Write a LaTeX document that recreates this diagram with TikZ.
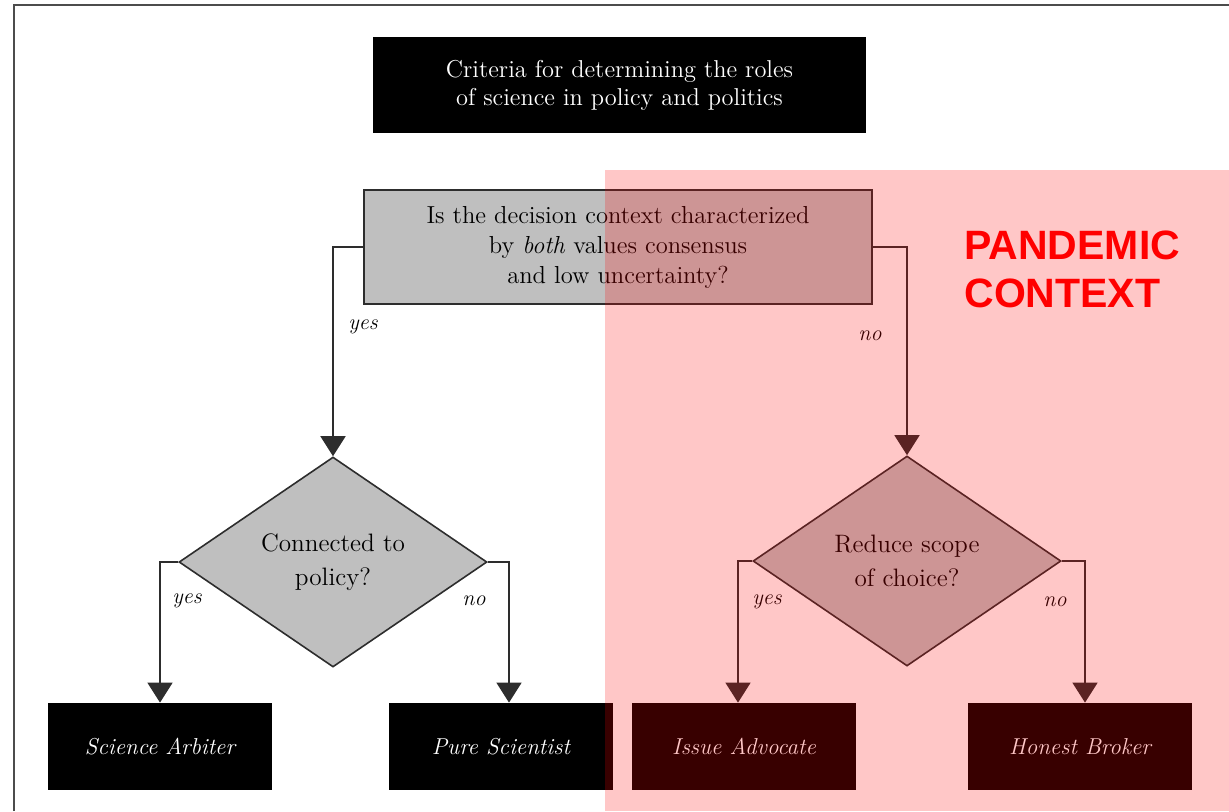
\documentclass[tikz,border=0pt]{standalone}
\usepackage{fontspec}
\newfontfamily\pandemicfont{Liberation Sans}
\usetikzlibrary{arrows.meta,shapes.geometric,positioning}

\definecolor{boxgrey}{RGB}{191,191,191}
\definecolor{linegrey}{RGB}{45,45,45}

\tikzset{
  titlebox/.style={fill=black, text=white, align=center, inner sep=0pt,
    font=\fontsize{12.2}{14}\selectfont},
  questbox/.style={draw=linegrey, line width=1pt, fill=boxgrey, text=black,
    align=center, inner sep=0pt, font=\fontsize{12.3}{15}\selectfont},
  decision/.style={diamond, draw=linegrey, line width=0.8pt, fill=boxgrey,
    text=black, align=center, inner sep=0pt, aspect=1.47,
    minimum width=154pt, minimum height=105pt,
    font=\fontsize{12.6}{17}\selectfont},
  rolebox/.style={fill=black, text=white, inner sep=0pt,
    minimum width=112pt, minimum height=43.5pt,
    font=\fontsize{11.5}{14}\selectfont\itshape},
  answer/.style={text=black, inner sep=0pt, font=\fontsize{11}{13}\selectfont\itshape},
  conn/.style={draw=linegrey, line width=0.8pt, -{Triangle[width=12.5pt,length=10pt]}}
}

\begin{document}
\begin{tikzpicture}[x=0.5pt, y=-0.5pt]

\useasboundingbox (0,0) rectangle (1229,811);

% page frame
\draw [black!70, line width=1pt] (14,811) -- (14,5) -- (1229,5);

\node [titlebox, minimum width=246.5pt, minimum height=48pt] (title) at (619.5,85)
  {Criteria for determining the roles\\of science in policy and politics};

\node [questbox, minimum width=254pt, minimum height=57pt] (quest) at (618,247)
  {Is the decision context characterized\\by \textit{both} values consensus\\and low uncertainty?};

\node [decision] (policy) at (333,562) {Connected to\\policy?};
\node [decision] (scope) at (907,561) {Reduce scope\\of choice?};

\node [rolebox] (arbiter) at (160,746.5) {Science Arbiter};
\node [rolebox] (pure) at (501,746.5) {Pure Scientist};
\node [rolebox] (advocate) at (744,746.5) {Issue Advocate};
\node [rolebox] (broker) at (1080,746.5) {Honest Broker};

\draw [conn] (quest.west) -| (policy.north);
\draw [conn] (quest.east) -| (scope.north);
\draw [conn] (policy.west) -| (arbiter.north);
\draw [conn] (policy.east) -| ([xshift=4pt]pure.north);
\draw [conn] (scope.west) -| ([xshift=-3pt]advocate.north);
\draw [conn] (scope.east) -| ([xshift=2.5pt]broker.north);

\node [answer] (yes1) at (363,327) {yes};
\node [answer] (no1) at (870,336) {no};
\node [answer] (yes2) at (187,601) {yes};
\node [answer] (no2) at (474,601) {no};
\node [answer] (yes3) at (767,602) {yes};
\node [answer] (no3) at (1055,602) {no};

% pandemic overlay
\fill [red, opacity=0.22] (605,170) rectangle (1229,811);

\node [anchor=north west, inner sep=0pt, align=left, text=red,
  font=\pandemicfont\bfseries\fontsize{20.5}{24}\selectfont] (pandemic) at (964,230)
  {PANDEMIC\\CONTEXT};

\end{tikzpicture}
\end{document}
